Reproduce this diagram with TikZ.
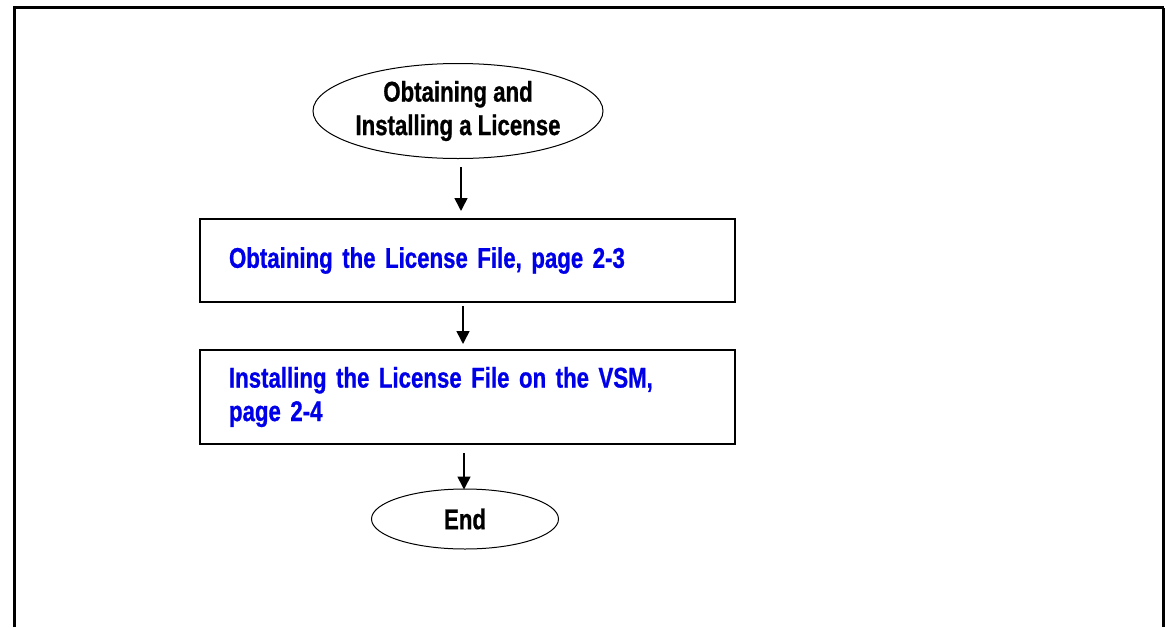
\documentclass[tikz,border=0pt]{standalone}
\usepackage{fontspec}
\setmainfont{Liberation Sans}[FakeStretch=0.78,BoldFeatures={FakeBold=0.8}]
\usetikzlibrary{shapes.geometric,arrows.meta}
\definecolor{linkblue}{RGB}{0,0,232}
\begin{document}
\begin{tikzpicture}[x=1pt,y=-1pt,
  txt/.style={font=\fontsize{28.5}{33.5}\selectfont\bfseries},
  oval/.style={draw,ellipse,line width=1pt,inner sep=0pt,txt,align=center},
  stepbox/.style={draw,rectangle,line width=2pt,minimum width=535,minimum height=0,
     text width=477,inner xsep=29,inner ysep=0pt,align=left,txt,text=linkblue},
  arr/.style={line width=1.6pt,-{Triangle[length=13pt,width=13pt]}}]
\useasboundingbox (0,0) rectangle (1165,627);
% outer frame (open at bottom)
\draw[line width=3pt] (14,627) -- (14,7.5);
\draw[line width=2.2pt] (13,7.5) -- (1164,7.5);
\draw[line width=3pt] (1163,7.5) -- (1163,627);
% nodes
\node[oval,minimum width=287,minimum height=95] (start) at (458,111)
  {Obtaining and\\Installing a License};
\node[stepbox,minimum height=83] (b1) at (467.5,260.5)
  {Obtaining the License File, page 2-3};
\node[stepbox,minimum height=94] (b2) at (467.5,397)
  {Installing the License File on the VSM,\\page 2-4};
\node[oval,minimum width=187,minimum height=60] (end) at (465,519) {\raisebox{-2pt}{End}};
% connectors
\coordinate (a1) at (461,0);
\coordinate (a2) at (463,0);
\coordinate (a3) at (464,0);
\draw[arr,shorten <=8pt,shorten >=7pt] (a1 |- start.south) -- (a1 |- b1.north);
\draw[arr,shorten <=3pt,shorten >=5pt] (a2 |- b1.south) -- (a2 |- b2.north);
\draw[arr,shorten <=8pt,shorten >=-1pt] (a3 |- b2.south) -- (a3 |- end.north);
\end{tikzpicture}
\end{document}
